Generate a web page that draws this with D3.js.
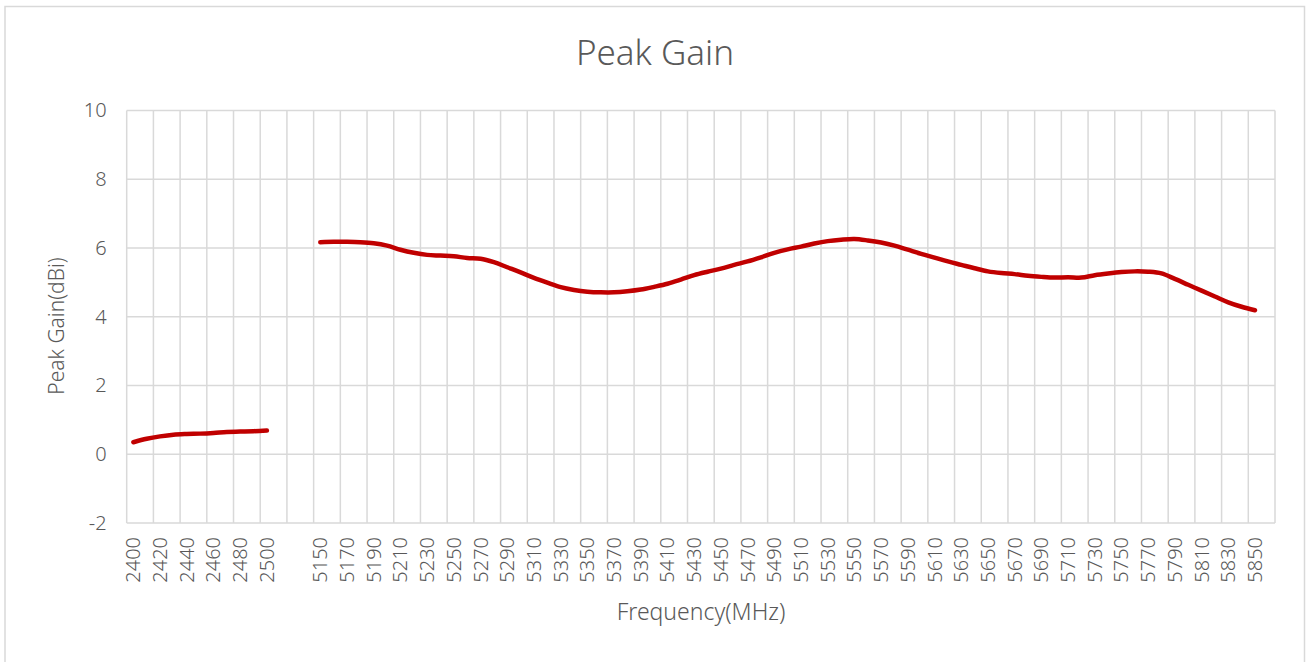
<!DOCTYPE html>
<html>
<head>
<meta charset="utf-8">
<script src="https://cdn.jsdelivr.net/npm/d3@7"></script>
<style>
  html, body { margin: 0; padding: 0; background: #fff; }
  svg { display: block; }
  text { font-family: "Noto Sans", "Open Sans", sans-serif; fill: #595959; }
</style>
</head>
<body>
<svg id="chart" width="1307" height="662"></svg>
<script>
// ---- data ----
const freq24 = ["2400","2410","2420","2430","2440","2450","2460","2470","2480","2490","2500"];
const gain24 = [0.35,0.45,0.52,0.57,0.59,0.60,0.62,0.65,0.66,0.67,0.69];
const gapCategories = ["gap1","gap2","gap3"];
const freq5 = ["5150","5160","5170","5180","5190","5200","5210","5220","5230","5240",
  "5250","5260","5270","5280","5290","5300","5310","5320","5330","5340",
  "5350","5360","5370","5380","5390","5400","5410","5420","5430","5440",
  "5450","5460","5470","5480","5490","5500","5510","5520","5530","5540",
  "5550","5560","5570","5580","5590","5600","5610","5620","5630","5640",
  "5650","5660","5670","5680","5690","5700","5710","5720","5730","5740",
  "5750","5760","5770","5780","5790","5800","5810","5820","5830","5840","5850"];
const gain5 = [6.17,6.18,6.18,6.17,6.14,6.07,5.95,5.86,5.80,5.78,
  5.76,5.71,5.69,5.59,5.44,5.29,5.13,4.99,4.86,4.78,
  4.73,4.71,4.71,4.74,4.79,4.87,4.96,5.08,5.21,5.31,
  5.40,5.51,5.61,5.73,5.86,5.96,6.04,6.13,6.20,6.24,
  6.26,6.22,6.16,6.07,5.95,5.83,5.72,5.61,5.51,5.41,
  5.32,5.27,5.24,5.19,5.16,5.14,5.15,5.14,5.21,5.26,
  5.30,5.32,5.31,5.26,5.10,4.93,4.76,4.59,4.42,4.29,4.19];
const tailCategories = ["tail1"];
const yTicks = [-2,0,2,4,6,8,10];
const titleText = "Peak Gain";
const xTitle = "Frequency(MHz)";
const yTitle = "Peak Gain(dBi)";

const categories = [...freq24, ...gapCategories, ...freq5, ...tailCategories];

// ---- layout ----
const svg = d3.select("#chart");
const plot = { left: 126.7, right: 1275, top: 110.5, bottom: 523 };

svg.append("rect")
  .attr("x", 5).attr("y", 6.5).attr("width", 1299.5).attr("height", 660)
  .attr("fill", "#fff").attr("stroke", "#d9d9d9").attr("stroke-width", 1.5);

const x = d3.scaleBand().domain(categories).range([plot.left, plot.right]).padding(0);
const y = d3.scaleLinear().domain([-2, 10]).range([plot.bottom, plot.top]);

const grid = svg.append("g");
grid.selectAll("line.h").data(yTicks).join("line")
  .attr("x1", plot.left).attr("x2", plot.right)
  .attr("y1", d => y(d)).attr("y2", d => y(d))
  .attr("stroke", "#d9d9d9").attr("stroke-width", 1.5);
const vIdx = d3.range(0, categories.length + 1, 2);
grid.selectAll("line.v").data(vIdx).join("line")
  .attr("x1", i => plot.left + i * x.bandwidth())
  .attr("x2", i => plot.left + i * x.bandwidth())
  .attr("y1", plot.top).attr("y2", plot.bottom)
  .attr("stroke", "#d9d9d9").attr("stroke-width", 1.5);

// y-axis labels
const yAxis = d3.axisLeft(y).tickValues(yTicks).tickSize(0).tickPadding(20)
  .tickFormat(d => d < 0 ? "-" + Math.abs(d) : String(d));
const gy = svg.append("g").attr("transform", `translate(${plot.left},0)`).call(yAxis);
gy.select(".domain").remove();
gy.selectAll("text").style("font-size", "20px").style("font-weight", 300).attr("fill", "#595959");

// x-axis labels (every other category)
const labelled = categories.filter((c, i) => i % 2 === 0 && /^\d+$/.test(c));
const xAxis = d3.axisBottom(x).tickValues(labelled).tickSize(0);
const gx = svg.append("g").attr("transform", `translate(0,${plot.bottom})`).call(xAxis);
gx.select(".domain").remove();
gx.selectAll("text")
  .style("font-size", "20px").style("font-weight", 300).attr("fill", "#595959")
  .attr("transform", "rotate(-90)")
  .attr("text-anchor", "end")
  .attr("x", -14).attr("y", 0).attr("dy", "0.35em");

// line
const line = d3.line()
  .x(d => x(d[0]) + x.bandwidth() / 2)
  .y(d => y(d[1]))
  .curve(d3.curveCatmullRom.alpha(0.5));
const series = [freq24.map((f, i) => [f, gain24[i]]), freq5.map((f, i) => [f, gain5[i]])];
svg.append("g").selectAll("path").data(series).join("path")
  .attr("d", line)
  .attr("fill", "none").attr("stroke", "#c00000").attr("stroke-width", 4.5)
  .attr("stroke-linecap", "round").attr("stroke-linejoin", "round");

// titles
svg.append("text").attr("x", 655).attr("y", 65).attr("text-anchor", "middle")
  .style("font-size", "35px").style("font-weight", 300).text(titleText);
svg.append("text").attr("x", 701).attr("y", 620).attr("text-anchor", "middle")
  .style("font-size", "23px").style("font-weight", 300).text(xTitle);
svg.append("text").attr("transform", "translate(64,326) rotate(-90)").attr("text-anchor", "middle")
  .style("font-size", "21px").style("font-weight", 300).text(yTitle);
</script>
</body>
</html>
